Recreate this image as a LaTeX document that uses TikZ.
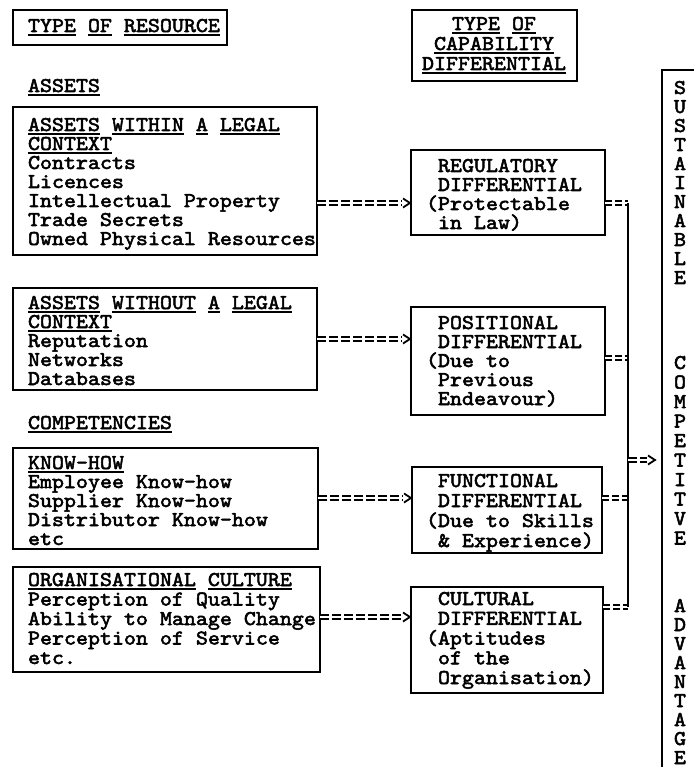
\documentclass[tikz,border=0pt]{standalone}
\usepackage{fontspec}
\newfontfamily\tw{lmmono10-regular.otf}[FakeBold=2.5, FakeStretch=1.088]
\usetikzlibrary{calc,decorations.markings}
\newsavebox\ulbox
\newcommand\ulw[1]{\sbox\ulbox{#1}\rlap{\rule[-3.6pt]{\wd\ulbox}{1.5pt}}\usebox\ulbox}
\newcommand\indt{\hphantom{(}}
\newcommand\linesL[2][19pt]{\vtop{\baselineskip=#1\lineskiplimit=-100pt\lineskip=0pt\halign{##\hfil\cr#2\crcr}}}
\newcommand\linesC[2][19pt]{\vtop{\baselineskip=#1\lineskiplimit=-100pt\lineskip=0pt\halign{\hfil##\hfil\cr#2\crcr}}}
\newcommand\eqtip{\pgfsetdash{}{0pt}\pgfsetlinewidth{1.8pt}\pgfsetmiterjoin\pgfpathmoveto{\pgfpoint{1pt}{4.5pt}}\pgfpathlineto{\pgfpoint{8pt}{0pt}}\pgfpathlineto{\pgfpoint{1pt}{-4.5pt}}\pgfusepath{stroke}}
\tikzset{
  frame/.style={draw, line width=1.1pt, inner sep=0pt, outer sep=0pt, anchor=north west},
  txt/.style={inner sep=0pt, outer sep=0pt, font=\tw\fontsize{21pt}{19pt}\selectfont, anchor=base west},
  ctxt/.style={txt, anchor=base},
  eq/.style={draw, line width=1.7pt, double, double distance=2.4pt, dash pattern=on 8.5pt off 3.5pt},
  stub/.style={eq, dash pattern=on 7pt off 3pt},
  eqarrow/.style={eq, postaction={decorate, decoration={markings, mark=at position 1 with {\eqtip}}}},
  bus/.style={draw, line width=1.6pt},
}
\begin{document}
\begin{tikzpicture}[x=1pt,y=-1pt]
\useasboundingbox (0,0) rectangle (693,767);
% headers
\node[frame, minimum width=214pt, minimum height=35pt] (h1) at (13,10) {};
\node[txt] (h1t) at (28,32) {\ulw{TYPE} \ulw{OF} \ulw{RESOURCE}};
\node[frame, minimum width=165pt, minimum height=71pt] (h2) at (412,10) {};
\node[ctxt] (h2t) at (494,30) {\linesC[20pt]{\ulw{TYPE} \ulw{OF}\cr \ulw{CAPABILITY}\cr \ulw{DIFFERENTIAL}}};
% section titles
\node[txt] (assets) at (28,92) {\ulw{ASSETS}};
\node[txt] (comp) at (28,429) {\ulw{COMPETENCIES}};
% resource boxes
\node[frame, minimum width=304pt, minimum height=148pt] (b1) at (13,107) {};
\node[txt] (b1t) at (28,131) {\linesL{\ulw{ASSETS} \ulw{WITHIN} \ulw{A} \ulw{LEGAL}\cr \ulw{CONTEXT}\cr Contracts\cr Licences\cr Intellectual Property\cr Trade Secrets\cr Owned Physical Resources}};
\node[frame, minimum width=304pt, minimum height=102pt] (b2) at (13,288) {};
\node[txt] (b2t) at (28,309) {\linesL{\ulw{ASSETS} \ulw{WITHOUT} \ulw{A} \ulw{LEGAL}\cr \ulw{CONTEXT}\cr Reputation\cr Networks\cr Databases}};
\node[frame, minimum width=305pt, minimum height=101pt] (b3) at (13,448) {};
\node[txt] (b3t) at (28,469) {\linesL{\ulw{KNOW-HOW}\cr Employee Know-how\cr Supplier Know-how\cr Distributor Know-how\cr etc}};
\node[frame, minimum width=307pt, minimum height=105pt] (b4) at (13,567) {};
\node[txt] (b4t) at (28,586) {\linesL[19.5pt]{\ulw{ORGANISATIONAL} \ulw{CULTURE}\cr Perception of Quality\cr Ability to Manage Change\cr Perception of Service\cr etc.}};
% differential boxes
\node[frame, minimum width=194pt, minimum height=85pt] (reg) at (411,150) {};
\node[txt] (regt) at (426,172) {\linesL{\indt REGULATORY\cr \indt DIFFERENTIAL\cr (Protectable\cr \indt in Law)}};
\node[frame, minimum width=194pt, minimum height=108pt] (pos) at (411,307) {};
\node[txt] (post) at (426,329) {\linesL{\indt POSITIONAL\cr \indt DIFFERENTIAL\cr (Due to\cr \indt Previous\cr \indt Endeavour)}};
\node[frame, minimum width=190pt, minimum height=86pt] (fun) at (412,467) {};
\node[txt] (funt) at (426,487) {\linesL[20pt]{\indt FUNCTIONAL\cr \indt DIFFERENTIAL\cr (Due to Skills\cr \indt\&~Experience)}};
\node[frame, minimum width=192pt, minimum height=106pt] (cul) at (411,587) {};
\node[txt] (cult) at (426,605) {\linesL[19.75pt]{\indt CULTURAL\cr \indt DIFFERENTIAL\cr (Aptitudes\cr \indt of the\cr \indt Organisation)}};
% sustainable competitive advantage
\node[frame, minimum width=70pt, minimum height=740pt] (sca) at (662,70) {};
\node[ctxt] (w1) at (680,94) {\linesC{S\cr U\cr S\cr T\cr A\cr I\cr N\cr A\cr B\cr L\cr E}};
\node[ctxt] (w2) at (680,369) {\linesC[19.5pt]{C\cr O\cr M\cr P\cr E\cr T\cr I\cr T\cr V\cr E}};
\node[ctxt] (w3) at (680,612) {\linesC{A\cr D\cr V\cr A\cr N\cr T\cr A\cr G\cr E}};
% arrow rows
\coordinate (r1) at (0,203);
\coordinate (r2) at (0,339);
\coordinate (r3) at (0,498);
\coordinate (r4) at (0,617);
\draw[eqarrow] (b1.east |- r1) -- ($(reg.west |- r1)+(-9,0)$);
\draw[eqarrow] (b2.east |- r2) -- ($(pos.west |- r2)+(-9,0)$);
\draw[eqarrow] (b3.east |- r3) -- ($(fun.west |- r3)+(-9,0)$);
\draw[eqarrow] (b4.east |- r4) -- ($(cul.west |- r4)+(-9,0)$);
% bus
\coordinate (j1) at (628,203);
\coordinate (j2) at (628,358);
\coordinate (j3) at (628,498);
\coordinate (j4) at (628,607);
\coordinate (jm) at (628,460);
\draw[stub] (reg.east |- j1) -- (j1);
\draw[stub] (pos.east |- j2) -- (j2);
\draw[stub] (fun.east |- j3) -- (j3);
\draw[stub] (cul.east |- j4) -- (j4);
\draw[bus] (j1) -- (j4);
\draw[eqarrow] (jm) -- ($(sca.west |- jm)+(-15,0)$);
\end{tikzpicture}
\end{document}
